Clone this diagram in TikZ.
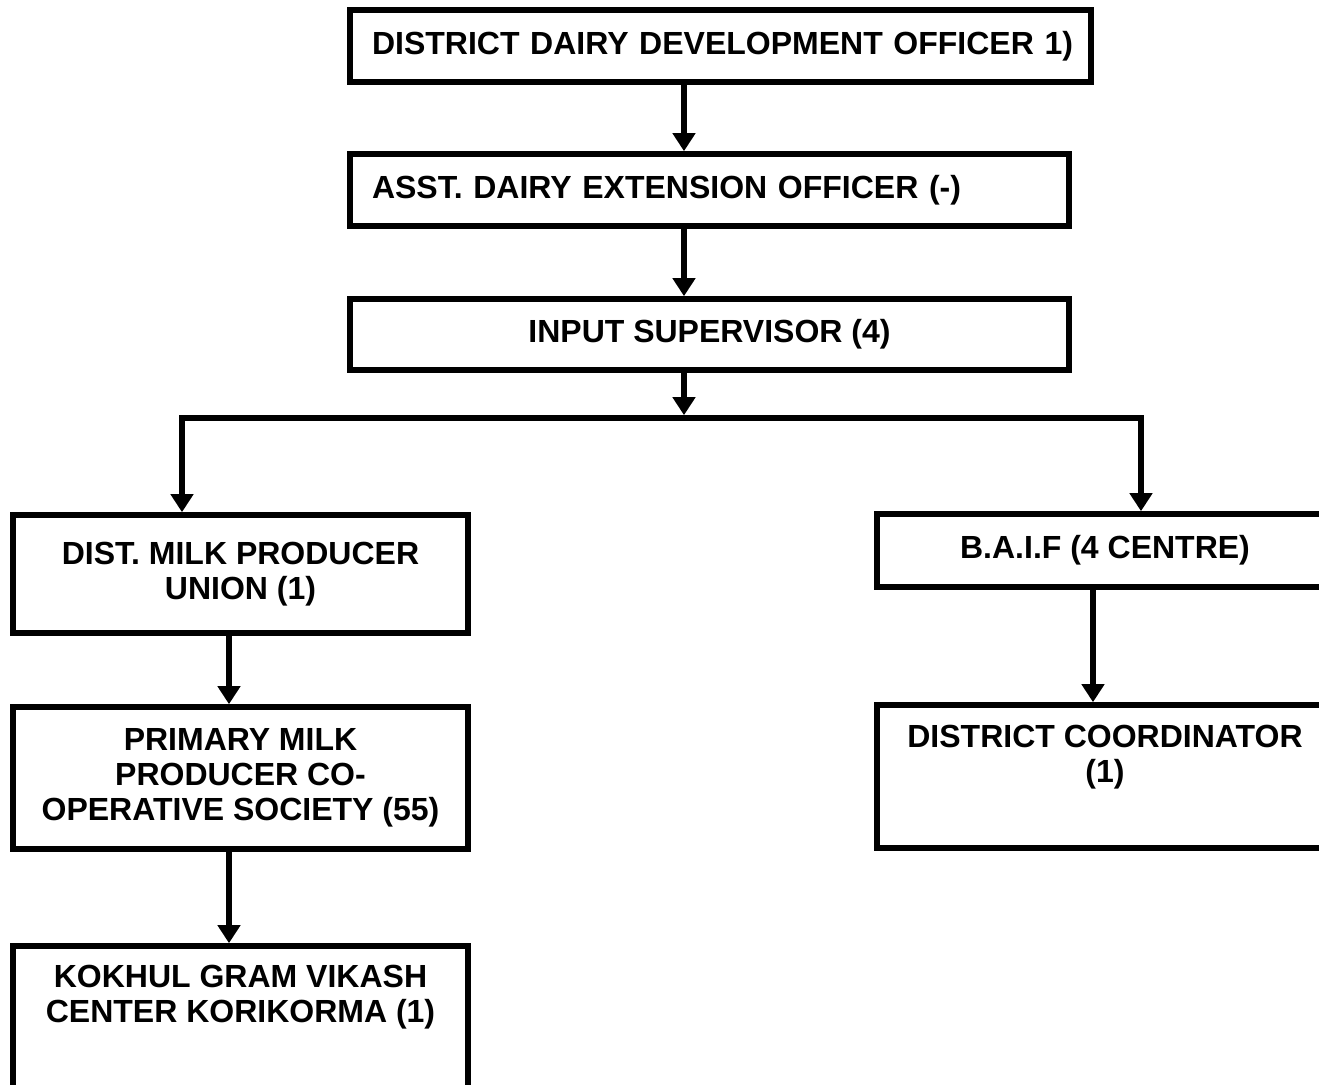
\documentclass[tikz,border=0pt]{standalone}
\usepackage{fontspec}
\setmainfont{Liberation Sans}
\usetikzlibrary{arrows.meta}

\begin{document}
\begin{tikzpicture}
    [x=.5pt, y=-.5pt,
     >={Triangle[length=9pt, width=11pt]},
     line width=2.8pt,
     post/.style={draw, line width=2.8pt, inner sep=0pt, align=center,
                  font=\bfseries\fontsize{16}{17.5}\selectfont},
    ]
    \useasboundingbox (0, 0) rectangle (1319, 1085);
    \clip (0, 0) rectangle (1319, 1085);

    % Main chain
    \node[post, text width=370.5pt, minimum height=36pt, align=left]
        (ddo) at (720.5, 46) {\hspace*{11pt}DISTRICT DAIRY DEVELOPMENT OFFICER 1)};
    \node[post, text width=359.5pt, minimum height=36pt, align=left]
        (ado) at (709.5, 190) {\hspace*{11pt}ASST. DAIRY EXTENSION OFFICER (-)};
    \node[post, minimum width=359.5pt, minimum height=35.5pt]
        (insup) at (709.5, 334.5) {INPUT SUPERVISOR (4)};

    % Milk union branch
    \node[post, minimum width=227.5pt, minimum height=59pt]
        (union) at (240.5, 574) {DIST. MILK PRODUCER\\UNION (1)};
    \node[post, minimum width=227.5pt, minimum height=71pt]
        (society) at (240.5, 778) {PRIMARY MILK\\PRODUCER CO-\\OPERATIVE SOCIETY (55)};
    \node[post, minimum width=227.5pt, minimum height=88pt]
        (kokhul) at (240.5, 1034) {KOKHUL GRAM VIKASH\\CENTER KORIKORMA (1)\\ \strut\\ \strut};

    % BAIF branch
    \node[post, minimum width=228pt, minimum height=36.5pt]
        (baif) at (1105, 550.5) {B.A.I.F (4 CENTRE)};
    \node[post, minimum width=228pt, minimum height=71.5pt]
        (coord) at (1105, 776.5) {DISTRICT COORDINATOR\\(1)\\ \strut};

    \coordinate (spine) at (684, 0);
    \coordinate (split) at (684, 418);
    \coordinate (uniondrop) at (182, 0);
    \coordinate (baifdrop) at (1141, 0);
    \coordinate (milkline) at (229, 0);
    \coordinate (coordline) at (1093, 0);

    \foreach \up/\down in {ddo/ado, ado/insup}
        \draw[->] (\up.south -| spine) -- (\down.north -| spine);
    \draw[->] (insup.south -| spine) -- ([yshift=1.4pt]split);
    \draw[<->] (union.north -| uniondrop) |- (split) -| (baif.north -| baifdrop);

    \foreach \up/\down in {union/society, society/kokhul}
        \draw[->] (\up.south -| milkline) -- (\down.north -| milkline);
    \draw[->] (baif.south -| coordline) -- (coord.north -| coordline);
\end{tikzpicture}
\end{document}
